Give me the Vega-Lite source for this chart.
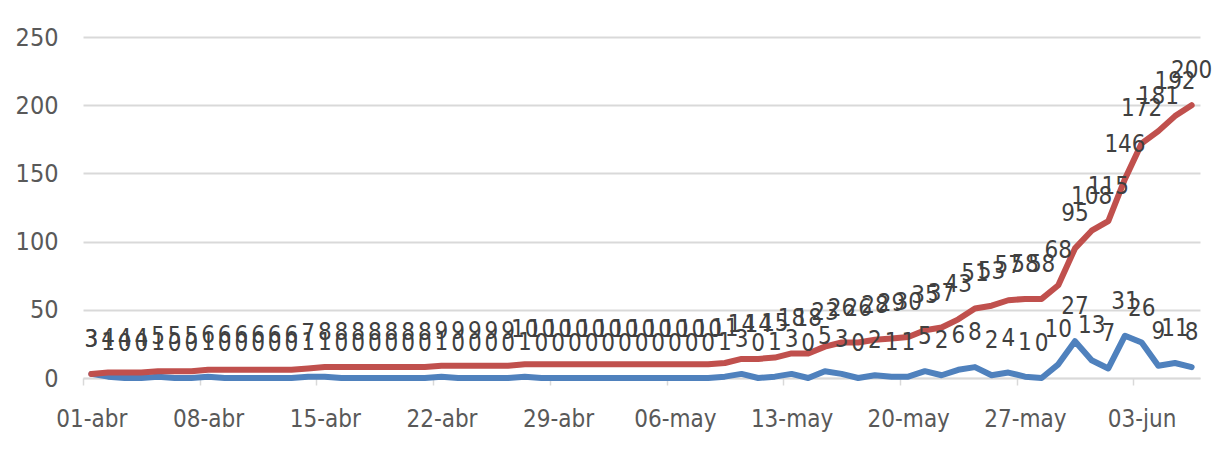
{
  "$schema": "https://vega.github.io/schema/vega-lite/v6.json",
  "width": 1117,
  "height": 341,
  "autosize": {"type": "none"},
  "padding": {"left": 83, "top": 37, "right": 21, "bottom": 72},
  "background": "white",
  "config": {"view": {"stroke": null}, "font": "Liberation Sans Narrow, DejaVu Sans Condensed, sans-serif"},
  "data": {"values": [
    {"fecha": "2020-04-01", "nuevos": 3, "acumulados": 3},
    {"fecha": "2020-04-02", "nuevos": 1, "acumulados": 4},
    {"fecha": "2020-04-03", "nuevos": 0, "acumulados": 4},
    {"fecha": "2020-04-04", "nuevos": 0, "acumulados": 4},
    {"fecha": "2020-04-05", "nuevos": 1, "acumulados": 5},
    {"fecha": "2020-04-06", "nuevos": 0, "acumulados": 5},
    {"fecha": "2020-04-07", "nuevos": 0, "acumulados": 5},
    {"fecha": "2020-04-08", "nuevos": 1, "acumulados": 6},
    {"fecha": "2020-04-09", "nuevos": 0, "acumulados": 6},
    {"fecha": "2020-04-10", "nuevos": 0, "acumulados": 6},
    {"fecha": "2020-04-11", "nuevos": 0, "acumulados": 6},
    {"fecha": "2020-04-12", "nuevos": 0, "acumulados": 6},
    {"fecha": "2020-04-13", "nuevos": 0, "acumulados": 6},
    {"fecha": "2020-04-14", "nuevos": 1, "acumulados": 7},
    {"fecha": "2020-04-15", "nuevos": 1, "acumulados": 8},
    {"fecha": "2020-04-16", "nuevos": 0, "acumulados": 8},
    {"fecha": "2020-04-17", "nuevos": 0, "acumulados": 8},
    {"fecha": "2020-04-18", "nuevos": 0, "acumulados": 8},
    {"fecha": "2020-04-19", "nuevos": 0, "acumulados": 8},
    {"fecha": "2020-04-20", "nuevos": 0, "acumulados": 8},
    {"fecha": "2020-04-21", "nuevos": 0, "acumulados": 8},
    {"fecha": "2020-04-22", "nuevos": 1, "acumulados": 9},
    {"fecha": "2020-04-23", "nuevos": 0, "acumulados": 9},
    {"fecha": "2020-04-24", "nuevos": 0, "acumulados": 9},
    {"fecha": "2020-04-25", "nuevos": 0, "acumulados": 9},
    {"fecha": "2020-04-26", "nuevos": 0, "acumulados": 9},
    {"fecha": "2020-04-27", "nuevos": 1, "acumulados": 10},
    {"fecha": "2020-04-28", "nuevos": 0, "acumulados": 10},
    {"fecha": "2020-04-29", "nuevos": 0, "acumulados": 10},
    {"fecha": "2020-04-30", "nuevos": 0, "acumulados": 10},
    {"fecha": "2020-05-01", "nuevos": 0, "acumulados": 10},
    {"fecha": "2020-05-02", "nuevos": 0, "acumulados": 10},
    {"fecha": "2020-05-03", "nuevos": 0, "acumulados": 10},
    {"fecha": "2020-05-04", "nuevos": 0, "acumulados": 10},
    {"fecha": "2020-05-05", "nuevos": 0, "acumulados": 10},
    {"fecha": "2020-05-06", "nuevos": 0, "acumulados": 10},
    {"fecha": "2020-05-07", "nuevos": 0, "acumulados": 10},
    {"fecha": "2020-05-08", "nuevos": 0, "acumulados": 10},
    {"fecha": "2020-05-09", "nuevos": 1, "acumulados": 11},
    {"fecha": "2020-05-10", "nuevos": 3, "acumulados": 14},
    {"fecha": "2020-05-11", "nuevos": 0, "acumulados": 14},
    {"fecha": "2020-05-12", "nuevos": 1, "acumulados": 15},
    {"fecha": "2020-05-13", "nuevos": 3, "acumulados": 18},
    {"fecha": "2020-05-14", "nuevos": 0, "acumulados": 18},
    {"fecha": "2020-05-15", "nuevos": 5, "acumulados": 23},
    {"fecha": "2020-05-16", "nuevos": 3, "acumulados": 26},
    {"fecha": "2020-05-17", "nuevos": 0, "acumulados": 26},
    {"fecha": "2020-05-18", "nuevos": 2, "acumulados": 28},
    {"fecha": "2020-05-19", "nuevos": 1, "acumulados": 29},
    {"fecha": "2020-05-20", "nuevos": 1, "acumulados": 30},
    {"fecha": "2020-05-21", "nuevos": 5, "acumulados": 35},
    {"fecha": "2020-05-22", "nuevos": 2, "acumulados": 37},
    {"fecha": "2020-05-23", "nuevos": 6, "acumulados": 43},
    {"fecha": "2020-05-24", "nuevos": 8, "acumulados": 51},
    {"fecha": "2020-05-25", "nuevos": 2, "acumulados": 53},
    {"fecha": "2020-05-26", "nuevos": 4, "acumulados": 57},
    {"fecha": "2020-05-27", "nuevos": 1, "acumulados": 58},
    {"fecha": "2020-05-28", "nuevos": 0, "acumulados": 58},
    {"fecha": "2020-05-29", "nuevos": 10, "acumulados": 68},
    {"fecha": "2020-05-30", "nuevos": 27, "acumulados": 95},
    {"fecha": "2020-05-31", "nuevos": 13, "acumulados": 108},
    {"fecha": "2020-06-01", "nuevos": 7, "acumulados": 115},
    {"fecha": "2020-06-02", "nuevos": 31, "acumulados": 146},
    {"fecha": "2020-06-03", "nuevos": 26, "acumulados": 172},
    {"fecha": "2020-06-04", "nuevos": 9, "acumulados": 181},
    {"fecha": "2020-06-05", "nuevos": 11, "acumulados": 192},
    {"fecha": "2020-06-06", "nuevos": 8, "acumulados": 200}
  ]},
  "encoding": {
    "x": {
      "field": "fecha",
      "type": "temporal",
      "title": null,
      "scale": {
        "type": "utc",
        "domain": [
          {"year": 2020, "month": 3, "date": 31, "hours": 12, "utc": true},
          {"year": 2020, "month": 6, "date": 6, "hours": 12, "utc": true}
        ]
      },
      "axis": {
        "values": [
          {"year": 2020, "month": 4, "date": 1, "utc": true},
          {"year": 2020, "month": 4, "date": 8, "utc": true},
          {"year": 2020, "month": 4, "date": 15, "utc": true},
          {"year": 2020, "month": 4, "date": 22, "utc": true},
          {"year": 2020, "month": 4, "date": 29, "utc": true},
          {"year": 2020, "month": 5, "date": 6, "utc": true},
          {"year": 2020, "month": 5, "date": 13, "utc": true},
          {"year": 2020, "month": 5, "date": 20, "utc": true},
          {"year": 2020, "month": 5, "date": 27, "utc": true},
          {"year": 2020, "month": 6, "date": 3, "utc": true}
        ],
        "labelExpr": "utcFormat(datum.value, '%d') + '-' + ['ene','feb','mar','abr','may','jun','jul'][utcmonth(datum.value)]",
        "grid": false,
        "domainColor": "#d9d9d9",
        "domainWidth": 1.5,
        "tickColor": "#d9d9d9",
        "tickWidth": 1.5,
        "tickSize": 7,
        "tickOffset": -8.3,
        "labelOffset": 8.3,
        "labelPadding": 22,
        "labelFontSize": 24,
        "labelColor": "#595959",
        "labelFlush": false,
        "labelOverlap": false
      }
    }
  },
  "layer": [
    {
      "mark": {"type": "line", "color": "#4F81BD", "strokeWidth": 6, "strokeCap": "round", "strokeJoin": "round"},
      "encoding": {
        "y": {
          "field": "nuevos",
          "type": "quantitative",
          "title": null,
          "scale": {"domain": [0, 250], "nice": false},
          "axis": {
            "values": [0, 50, 100, 150, 200, 250],
            "domain": false,
            "ticks": false,
            "gridColor": "#d9d9d9",
            "gridWidth": 2,
            "labelPadding": 25,
            "labelFontSize": 25,
            "labelColor": "#595959"
          }
        }
      }
    },
    {
      "mark": {"type": "line", "color": "#C0504D", "strokeWidth": 6, "strokeCap": "round", "strokeJoin": "round"},
      "encoding": {
        "y": {"field": "acumulados", "type": "quantitative"}
      }
    },
    {
      "mark": {"type": "text", "dy": -34, "fontSize": 24, "color": "#404040", "baseline": "middle"},
      "encoding": {
        "y": {"field": "nuevos", "type": "quantitative"},
        "text": {"field": "nuevos", "type": "quantitative"}
      }
    },
    {
      "mark": {"type": "text", "dy": -34, "fontSize": 24, "color": "#404040", "baseline": "middle"},
      "encoding": {
        "y": {"field": "acumulados", "type": "quantitative"},
        "text": {"field": "acumulados", "type": "quantitative"}
      }
    }
  ]
}
